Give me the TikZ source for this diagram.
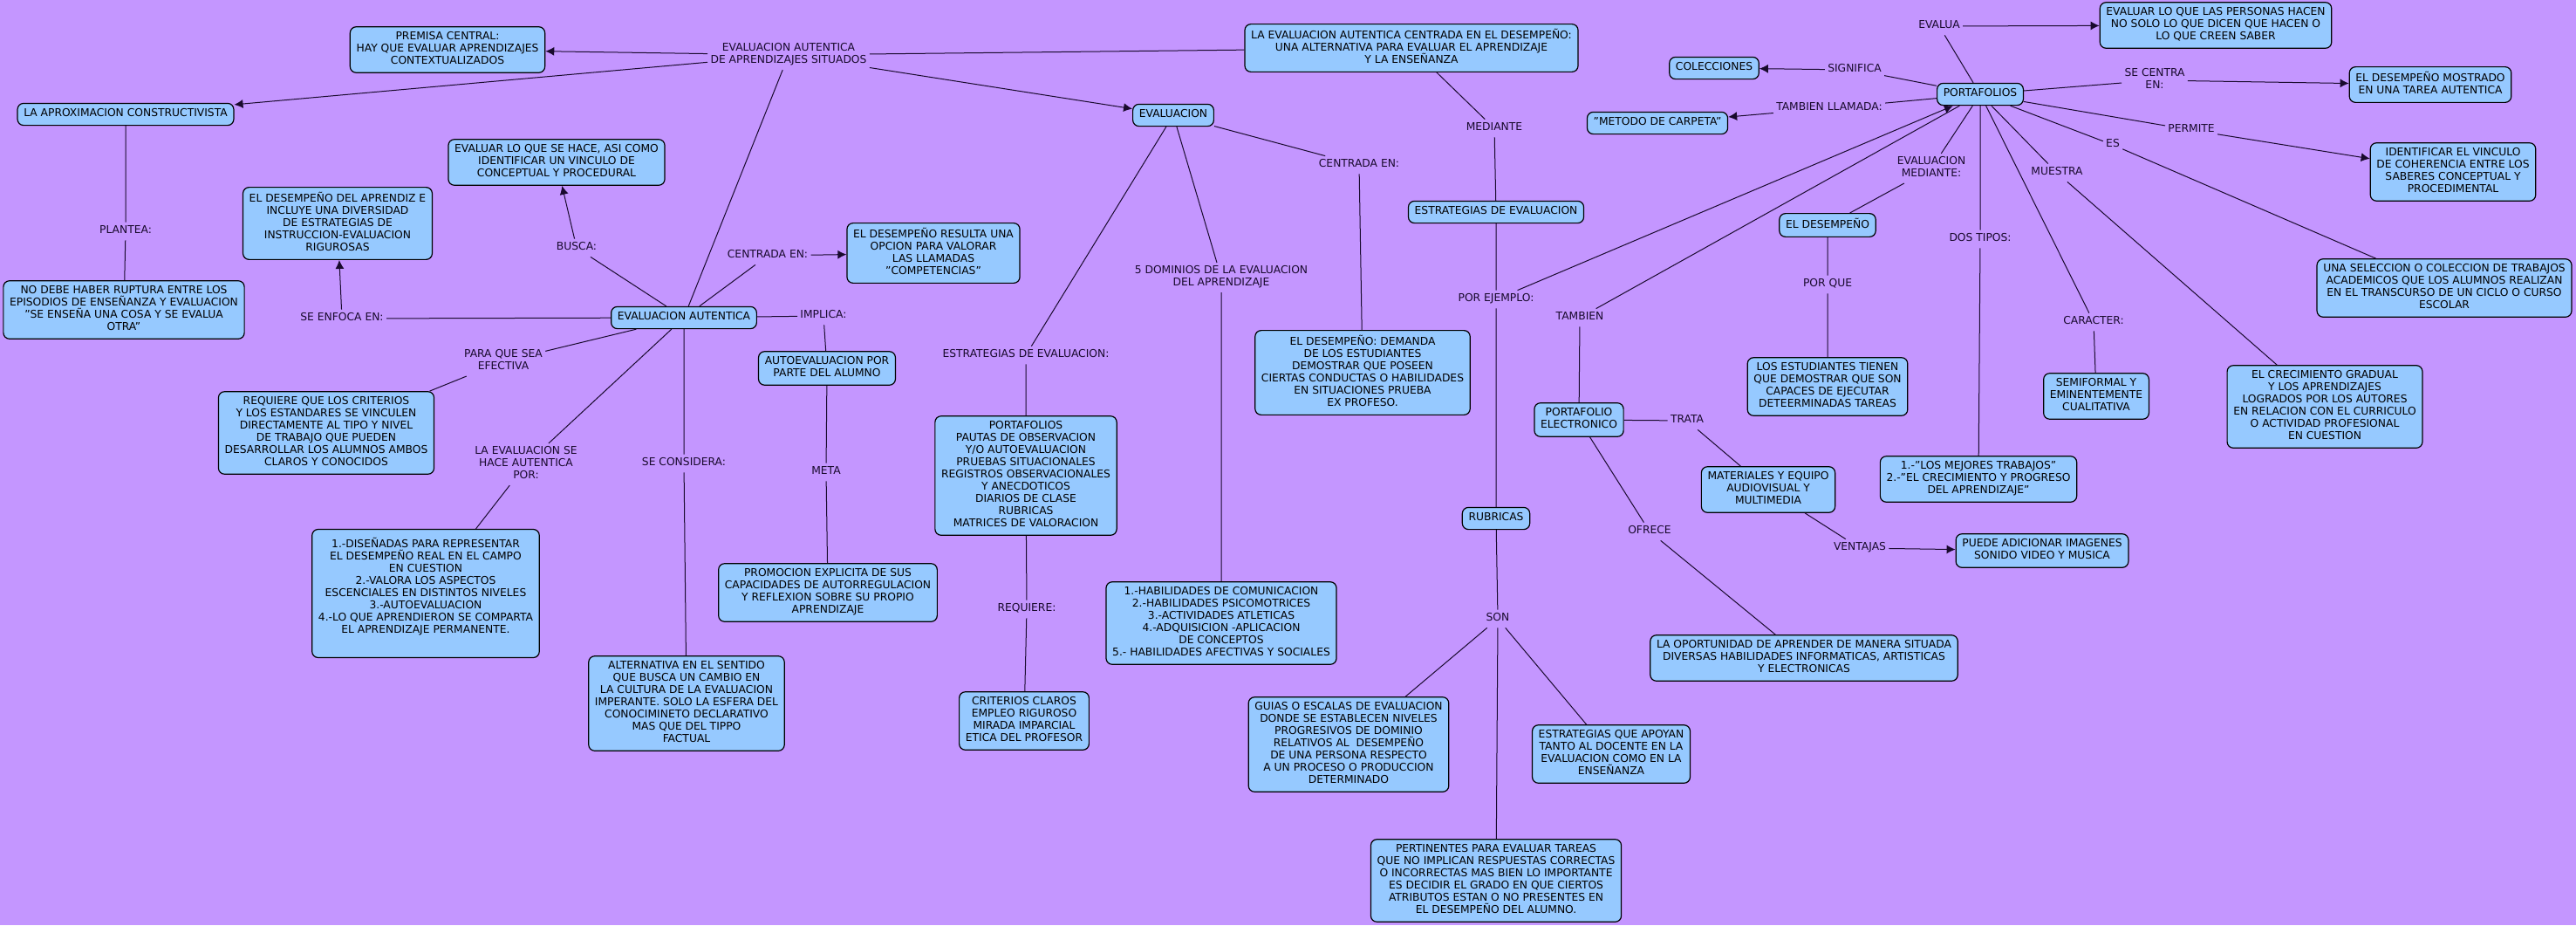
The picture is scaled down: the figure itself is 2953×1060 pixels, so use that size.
\documentclass[tikz,border=0pt]{standalone}
\usepackage{fontspec}
\usetikzlibrary{arrows.meta}
\setmainfont{DejaVu Sans}
\definecolor{fondo}{RGB}{196,150,255}
\definecolor{caja}{RGB}{150,201,255}
\definecolor{tinta}{RGB}{25,10,45}

\begin{document}
\begin{tikzpicture}[x = .5pt, y = -.5pt,
  every node/.style = {font = \fontsize{6.15}{7}\selectfont,
    execute at begin node = \strut, execute at end node = \strut},
  concepto/.style = {draw = black, fill = caja, rounded corners = 3.5pt,
    line width = .6pt, align = center, inner xsep = 3.6pt, inner ysep = 2.8pt},
  enlace/.style = {align = center, inner sep = 1.5pt, text = tinta},
  conn/.style = {draw = tinta, line width = .5pt},
  flecha/.style = {conn, -{Latex[length = 5pt, width = 5pt]}}]
  \fill[fondo] (0, 0) rectangle (2953, 1060);
  \useasboundingbox (0, 0) rectangle (2953, 1060);

  \node[concepto] (premisa) at (513, 57)
  {PREMISA CENTRAL:\\HAY QUE EVALUAR APRENDIZAJES\\CONTEXTUALIZADOS};
  \node[concepto] (constr) at (144, 131) {LA APROXIMACION CONSTRUCTIVISTA};
  \node[concepto] (noruptura) at (142, 355)
  {NO DEBE HABER RUPTURA ENTRE LOS\\EPISODIOS DE ENSEÑANZA Y EVALUACION\\"SE
    ENSEÑA UNA COSA Y SE EVALUA\\OTRA"};
  \node[concepto] (evallohace) at (638, 186)
  {EVALUAR LO QUE SE HACE, ASI COMO\\IDENTIFICAR UN VINCULO DE\\CONCEPTUAL Y
    PROCEDURAL};
  \node[concepto] (desaprendiz) at (387, 256)
  {EL DESEMPEÑO DEL APRENDIZ E\\INCLUYE UNA DIVERSIDAD\\DE ESTRATEGIAS
    DE\\INSTRUCCION-EVALUACION\\RIGUROSAS};
  \node[concepto] (evalaut) at (784, 364) {EVALUACION AUTENTICA};
  \node[concepto] (competencias) at (1070, 290)
  {EL DESEMPEÑO RESULTA UNA\\OPCION PARA VALORAR\\LAS
    LLAMADAS\\"COMPETENCIAS"};
  \node[concepto] (autoeval) at (948, 422)
  {AUTOEVALUACION POR\\PARTE DEL ALUMNO};
  \node[concepto] (promocion) at (949, 679)
  {PROMOCION EXPLICITA DE SUS\\CAPACIDADES DE AUTORREGULACION\\Y REFLEXION
    SOBRE SU PROPIO\\APRENDIZAJE};
  \node[concepto] (requiere) at (374, 496)
  {REQUIERE QUE LOS CRITERIOS\\Y LOS ESTANDARES SE VINCULEN\\DIRECTAMENTE AL
    TIPO Y NIVEL\\DE TRABAJO QUE PUEDEN\\DESARROLLAR LOS ALUMNOS
    AMBOS\\CLAROS Y CONOCIDOS};
  \node[concepto, minimum height = 73.5pt] (disenadas) at (488, 680)
  {1.-DISEÑADAS PARA REPRESENTAR\\EL DESEMPEÑO REAL EN EL CAMPO\\EN
    CUESTION\\2.-VALORA LOS ASPECTOS\\ESCENCIALES EN DISTINTOS
    NIVELES\\3.-AUTOEVALUACION\\4.-LO QUE APRENDIERON SE COMPARTA\\EL
    APRENDIZAJE PERMANENTE.\\ ~};
  \node[concepto] (alternativa) at (787, 806)
  {ALTERNATIVA EN EL SENTIDO\\QUE BUSCA UN CAMBIO EN\\LA CULTURA DE LA
    EVALUACION\\IMPERANTE. SOLO LA ESFERA DEL\\CONOCIMINETO DECLARATIVO\\MAS
    QUE DEL TIPPO\\FACTUAL};
  \node[concepto] (evaluacion) at (1345, 132) {EVALUACION};
  \node[concepto] (centrada) at (1618, 55)
  {LA EVALUACION AUTENTICA CENTRADA EN EL DESEMPEÑO:\\UNA ALTERNATIVA PARA
    EVALUAR EL APRENDIZAJE\\Y LA ENSEÑANZA};
  \node[concepto] (estrategias) at (1715, 243) {ESTRATEGIAS DE EVALUACION};
  \node[concepto] (demanda) at (1562, 427)
  {EL DESEMPEÑO: DEMANDA\\DE LOS ESTUDIANTES\\DEMOSTRAR QUE POSEEN\\CIERTAS
    CONDUCTAS O HABILIDADES\\EN SITUACIONES PRUEBA\\EX PROFESO.};
  \node[concepto] (listaestr) at (1176, 545)
  {PORTAFOLIOS\\PAUTAS DE OBSERVACION\\Y/O AUTOEVALUACION\\PRUEBAS
    SITUACIONALES\\REGISTROS OBSERVACIONALES\\Y ANECDOTICOS\\DIARIOS DE
    CLASE\\RUBRICAS\\MATRICES DE VALORACION};
  \node[concepto] (dominios) at (1400, 714)
  {1.-HABILIDADES DE COMUNICACION\\2.-HABILIDADES
    PSICOMOTRICES\\3.-ACTIVIDADES ATLETICAS\\4.-ADQUISICION -APLICACION\\DE
    CONCEPTOS\\5.- HABILIDADES AFECTIVAS Y SOCIALES};
  \node[concepto] (criterios) at (1174, 826)
  {CRITERIOS CLAROS\\EMPLEO RIGUROSO\\MIRADA IMPARCIAL\\ETICA DEL PROFESOR};
  \node[concepto] (guias) at (1546, 853)
  {GUIAS O ESCALAS DE EVALUACION\\DONDE SE ESTABLECEN NIVELES\\PROGRESIVOS DE
    DOMINIO\\RELATIVOS AL\ \ DESEMPEÑO\\DE UNA PERSONA RESPECTO\\A UN PROCESO
    O PRODUCCION\\DETERMINADO};
  \node[concepto] (apoyan) at (1847, 864)
  {ESTRATEGIAS QUE APOYAN\\TANTO AL DOCENTE EN LA\\EVALUACION COMO EN
    LA\\ENSEÑANZA};
  \node[concepto] (pertinentes) at (1715, 1009)
  {PERTINENTES PARA EVALUAR TAREAS\\QUE NO IMPLICAN RESPUESTAS
    CORRECTAS\\O INCORRECTAS MAS BIEN LO IMPORTANTE\\ES DECIDIR EL GRADO EN
    QUE CIERTOS\\ATRIBUTOS ESTAN O NO PRESENTES EN\\EL DESEMPEÑO DEL
    ALUMNO.};
  \node[concepto] (rubricas) at (1715, 594) {RUBRICAS};
  \node[concepto] (portelec) at (1810, 481) {PORTAFOLIO\\ELECTRONICO};
  \node[concepto] (materiales) at (2027, 561)
  {MATERIALES Y EQUIPO\\AUDIOVISUAL Y\\MULTIMEDIA};
  \node[concepto] (oportunidad) at (2068, 754)
  {LA OPORTUNIDAD DE APRENDER DE MANERA SITUADA\\DIVERSAS HABILIDADES
    INFORMATICAS, ARTISTICAS\\Y ELECTRONICAS};
  \node[concepto] (estudiantes) at (2095, 443)
  {LOS ESTUDIANTES TIENEN\\QUE DEMOSTRAR QUE SON\\CAPACES DE
    EJECUTAR\\DETEERMINADAS TAREAS};
  \node[concepto] (adicionar) at (2341, 631)
  {PUEDE ADICIONAR IMAGENES\\SONIDO VIDEO Y MUSICA};
  \node[concepto] (mejores) at (2268, 549)
  {1.-"LOS MEJORES TRABAJOS"\\2.-"EL CRECIMIENTO Y PROGRESO\\DEL
    APRENDIZAJE"};
  \node[concepto] (semiformal) at (2403, 454)
  {SEMIFORMAL Y\\EMINENTEMENTE\\CUALITATIVA};
  \node[concepto] (crecimiento) at (2665, 466)
  {EL CRECIMIENTO GRADUAL\\Y LOS APRENDIZAJES\\LOGRADOS POR LOS AUTORES\\EN
    RELACION CON EL CURRICULO\\O ACTIVIDAD PROFESIONAL\\EN CUESTION};
  \node[concepto] (seleccion) at (2802, 330)
  {UNA SELECCION O COLECCION DE TRABAJOS\\ACADEMICOS QUE LOS ALUMNOS
    REALIZAN\\EN EL TRANSCURSO DE UN CICLO O CURSO\\ESCOLAR};
  \node[concepto] (identificar) at (2812, 197)
  {IDENTIFICAR EL VINCULO\\DE COHERENCIA ENTRE LOS\\SABERES CONCEPTUAL
    Y\\PROCEDIMENTAL};
  \node[concepto] (mostrado) at (2786, 97)
  {EL DESEMPEÑO MOSTRADO\\EN UNA TAREA AUTENTICA};
  \node[concepto] (personas) at (2540, 29)
  {EVALUAR LO QUE LAS PERSONAS HACEN\\NO SOLO LO QUE DICEN QUE HACEN O\\LO
    QUE CREEN SABER};
  \node[concepto] (portafolios) at (2270, 108) {PORTAFOLIOS};
  \node[concepto] (colecciones) at (1965, 78) {COLECCIONES};
  \node[concepto] (carpeta) at (1900, 141) {"METODO DE CARPETA"};
  \node[concepto] (desempeno) at (2095, 258) {EL DESEMPEÑO};

  \node[enlace] (situados) at (904, 63)
  {EVALUACION AUTENTICA\\DE APRENDIZAJES SITUADOS};
  \node[enlace] (plantea) at (144, 265) {PLANTEA:};
  \node[enlace] (enfoca) at (392, 365) {SE ENFOCA EN:};
  \node[enlace] (busca) at (661, 284) {BUSCA:};
  \node[enlace] (centradaen) at (880, 293) {CENTRADA EN:};
  \node[enlace] (implica) at (944, 362) {IMPLICA:};
  \node[enlace] (efectiva) at (577, 414) {PARA QUE SEA\\EFECTIVA};
  \node[enlace] (hace) at (603, 532) {LA EVALUACION SE\\HACE AUTENTICA\\POR:};
  \node[enlace] (considera) at (784, 531) {SE CONSIDERA:};
  \node[enlace] (meta) at (947, 541) {META};
  \node[enlace] (estrenl) at (1176, 407) {ESTRATEGIAS DE EVALUACION:};
  \node[enlace] (cinco) at (1400, 318)
  {5 DOMINIOS DE LA EVALUACION\\DEL APRENDIZAJE};
  \node[enlace] (centradaen2) at (1558, 189) {CENTRADA EN:};
  \node[enlace] (mediante) at (1713, 147) {MEDIANTE};
  \node[enlace] (ejemplo) at (1715, 343) {POR EJEMPLO:};
  \node[enlace] (tambien) at (1811, 364) {TAMBIEN};
  \node[enlace] (requiereenl) at (1177, 698) {REQUIERE:};
  \node[enlace] (son) at (1717, 709) {SON};
  \node[enlace] (trata) at (1934, 482) {TRATA};
  \node[enlace] (ofrece) at (1891, 609) {OFRECE};
  \node[enlace] (ventajas) at (2132, 628) {VENTAJAS};
  \node[enlace] (porque) at (2095, 326) {POR QUE};
  \node[enlace] (dostipos) at (2270, 274) {DOS TIPOS:};
  \node[enlace] (caracter) at (2400, 369) {CARACTER:};
  \node[enlace] (muestra) at (2358, 198) {MUESTRA};
  \node[enlace] (es) at (2422, 166) {ES};
  \node[enlace] (permite) at (2512, 149) {PERMITE};
  \node[enlace] (secentra) at (2470, 92) {SE CENTRA\\EN:};
  \node[enlace] (evalua) at (2223, 30) {EVALUA};
  \node[enlace] (significa) at (2126, 80) {SIGNIFICA};
  \node[enlace] (llamada) at (2097, 124) {TAMBIEN LLAMADA:};
  \node[enlace] (medianteenl) at (2214, 193) {EVALUACION\\MEDIANTE:};

  \draw[conn] (centrada) -- (situados);
  \draw[conn] (evalaut) -- (situados);
  \draw[flecha] (situados) -- (premisa);
  \draw[flecha] (situados) -- (constr);
  \draw[flecha] (situados) -- (evaluacion);
  \draw[conn] (constr) -- (plantea) -- (noruptura);
  \draw[conn] (evalaut) -- (enfoca);
  \draw[flecha] (enfoca) -- (desaprendiz);
  \draw[conn] (evalaut) -- (busca);
  \draw[flecha] (busca) -- (evallohace);
  \draw[conn] (evalaut) -- (centradaen);
  \draw[flecha] (centradaen) -- (competencias);
  \draw[conn] (evalaut) -- (implica) -- (autoeval) -- (meta) -- (promocion);
  \draw[conn] (evalaut) -- (efectiva) -- (requiere);
  \draw[conn] (evalaut) -- (hace) -- (disenadas);
  \draw[conn] (evalaut) -- (considera) -- (alternativa);
  \draw[conn] (evaluacion) -- (estrenl) -- (listaestr) -- (requiereenl)
  -- (criterios);
  \draw[conn] (evaluacion) -- (cinco) -- (dominios);
  \draw[conn] (evaluacion) -- (centradaen2) -- (demanda);
  \draw[conn] (centrada) -- (mediante) -- (estrategias) -- (ejemplo)
  -- (rubricas) -- (son) -- (pertinentes);
  \draw[conn] (son) -- (guias);
  \draw[conn] (son) -- (apoyan);
  \draw[flecha] (ejemplo) -- (portafolios);
  \draw[conn] (portafolios) -- (tambien) -- (portelec);
  \draw[conn] (portelec) -- (trata) -- (materiales) -- (ventajas);
  \draw[flecha] (ventajas) -- (adicionar);
  \draw[conn] (portelec) -- (ofrece) -- (oportunidad);
  \draw[conn] (portafolios) -- (medianteenl) -- (desempeno) -- (porque)
  -- (estudiantes);
  \draw[conn] (portafolios) -- (dostipos) -- (mejores);
  \draw[conn] (portafolios) -- (caracter) -- (semiformal);
  \draw[conn] (portafolios) -- (muestra) -- (crecimiento);
  \draw[conn] (portafolios) -- (es) -- (seleccion);
  \draw[conn] (portafolios) -- (permite);
  \draw[flecha] (permite) -- (identificar);
  \draw[conn] (portafolios) -- (secentra);
  \draw[flecha] (secentra) -- (mostrado);
  \draw[conn] (portafolios) -- (evalua);
  \draw[flecha] (evalua) -- (personas);
  \draw[conn] (portafolios) -- (significa);
  \draw[flecha] (significa) -- (colecciones);
  \draw[conn] (portafolios) -- (llamada);
  \draw[flecha] (llamada) -- (carpeta);
\end{tikzpicture}
\end{document}
